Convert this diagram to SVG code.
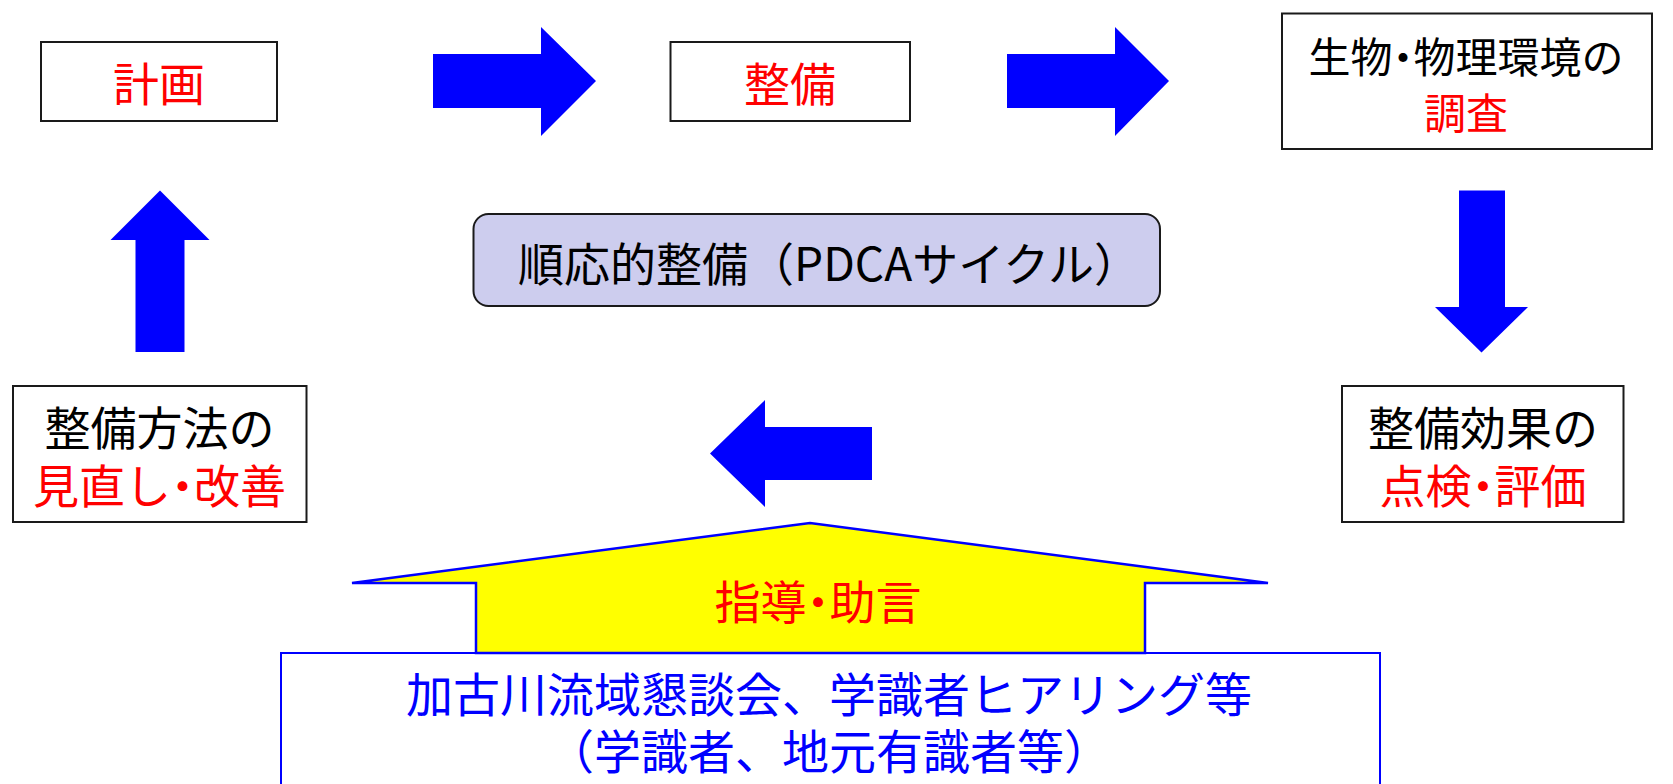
<svg xmlns="http://www.w3.org/2000/svg" width="1673" height="784" viewBox="0 0 1673 784">
<style>
  text { font-family: "Noto Sans CJK JP", "Noto Sans", sans-serif; text-anchor: middle; }
  .box { fill: #ffffff; stroke: #1a1a1a; stroke-width: 2; }
  .arrow { fill: #0000ff; stroke: none; }
  .red { fill: #ff0000; }
  .blk { fill: #000000; }
  .blu { fill: #0000ff; }
  .f47 { font-size: 47px; }
  .f46 { font-size: 46px; }
  .f42 { font-size: 42px; }
  .palt { font-feature-settings: "palt" 1; }
</style>
<rect width="1673" height="784" fill="#ffffff"/>
<g id="connectors">
  <polygon class="arrow" points="433,54 541,54 541,27 596,81 541,136 541,108 433,108"/>
  <polygon class="arrow" points="1007,54 1115,54 1115,27 1169,81 1115,136 1115,108 1007,108"/>
  <polygon class="arrow" points="1459,190.5 1505,190.5 1505,307 1528,307 1481.5,352.5 1435,307 1459,307"/>
  <polygon class="arrow" points="872,427 765,427 765,400 710,453.5 765,507 765,480 872,480"/>
  <polygon class="arrow" points="135.5,352 135.5,240 110.5,240 160,190.5 209.5,240 184.5,240 184.5,352"/>
</g>
<g id="node-plan">
  <rect class="box" x="41" y="42" width="236" height="79"/>
  <text class="red f46" x="159" y="101">計画</text>
</g>
<g id="node-build">
  <rect class="box" x="670.5" y="42" width="239.5" height="79"/>
  <text class="red f46" x="790" y="101">整備</text>
</g>
<g id="node-survey">
  <rect class="box" x="1282" y="13.5" width="370" height="135.5"/>
  <text class="blk f42" x="1466" y="73">生物<tspan class="palt">・</tspan>物理環境の</text>
  <text class="red f42" x="1466" y="129">調査</text>
</g>
<g id="node-check">
  <rect class="box" x="1342" y="386" width="281.5" height="136"/>
  <text class="blk f46" x="1483" y="445">整備効果の</text>
  <text class="red f46" x="1483" y="503">点検<tspan class="palt">・</tspan>評価</text>
</g>
<g id="node-review">
  <rect class="box" x="13" y="386" width="293.5" height="136"/>
  <text class="blk f46" x="159.5" y="445">整備方法の</text>
  <text class="red f46" x="159.5" y="503">見直し<tspan class="palt">・</tspan>改善</text>
</g>
<g id="node-pdca">
  <rect x="473.5" y="214" width="686.5" height="92" rx="15" ry="15" fill="#cdcdee" stroke="#1a1a1a" stroke-width="2"/>
  <text class="blk f46" x="829" y="281">順応的整備（PDCAサイクル）</text>
</g>
<g id="node-council">
  <rect x="281" y="653" width="1099" height="140" fill="#ffffff" stroke="#0000ff" stroke-width="2"/>
  <text class="blu f47" x="829" y="712">加古川流域懇談会、学識者ヒアリング等</text>
  <text class="blu f47" x="829" y="769">（学識者、地元有識者等）</text>
</g>
<g id="node-advice">
  <polygon points="476,653 476,583 352,583 810,523 1268,583 1145,583 1145,653" fill="#ffff00" stroke="#0000ff" stroke-width="2.5" stroke-linejoin="miter"/>
  <text class="red f46" x="818" y="619">指導<tspan class="palt">・</tspan>助言</text>
</g>
</svg>
